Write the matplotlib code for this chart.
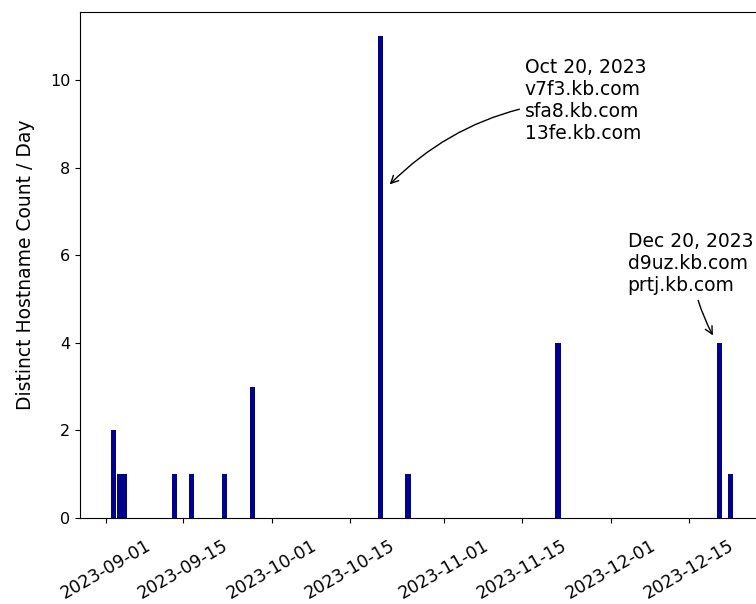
import pandas as pd
import matplotlib.pyplot as plt
import matplotlib.dates as mdates

dates = ['2023-09-02', '2023-09-03', '2023-09-04', '2023-09-13', '2023-09-16',
         '2023-09-22', '2023-09-27', '2023-10-20', '2023-10-25', '2023-11-21',
         '2023-12-20', '2023-12-22']
counts = [2, 1, 1, 1, 1, 1, 3, 11, 1, 4, 4, 1]

peak1_text = "Oct 20, 2023\nv7f3.kb.com\nsfa8.kb.com\n13fe.kb.com"
peak2_text = "Dec 20, 2023\nd9uz.kb.com\nprtj.kb.com"

days = pd.to_datetime(dates)

fig = plt.figure(figsize=(7.56, 6.04), dpi=100)
# the reference is a crop, so the axes run a little past the right edge
ax = fig.add_axes([80/756, 86/604, 684/756, 506/604])

ax.bar(days, counts, width=0.95, align='edge', color='darkblue')

ax.set_ylabel('Distinct Hostname Count / Day', fontsize=13.5, labelpad=11)
ax.xaxis.set_major_locator(mdates.DayLocator(bymonthday=[1, 15]))
ax.xaxis.set_major_formatter(mdates.DateFormatter('%Y-%m-%d'))
plt.xticks(rotation=30, fontsize=12.5)
plt.yticks(fontsize=11.5)
ax.tick_params(axis='x', pad=10)
ax.spines['right'].set_visible(False)

start = pd.Timestamp('2023-09-01')
ax.annotate(peak1_text,
            xy=(start + pd.Timedelta(days=50.8), 7.57),
            xytext=(start + pd.Timedelta(days=75.5), 10.51),
            va='top', fontsize=13.5,
            arrowprops=dict(arrowstyle='->', connectionstyle='arc3,rad=0.2', color='black'))
ax.annotate(peak2_text,
            xy=(start + pd.Timedelta(days=109.6), 4.11),
            xytext=(start + pd.Timedelta(days=94.0), 6.53),
            va='top', fontsize=13.5,
            arrowprops=dict(arrowstyle='->', connectionstyle='arc3,rad=0.1', color='black'))

plt.savefig('out.png')
